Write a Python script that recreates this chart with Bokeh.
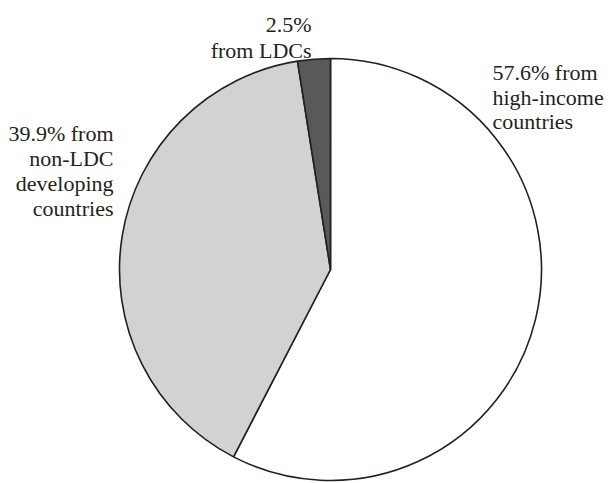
import numpy as np
from bokeh.plotting import figure
from bokeh.models import Range1d, ColumnDataSource
from bokeh.core.properties import value
from bokeh.embed import file_html
from bokeh.resources import INLINE

# Shares of the total, in percent, clockwise from 12 o'clock
groups = ["high-income countries", "non-LDC developing countries", "LDCs"]
shares = [57.6, 39.9, 2.5]
colors = ["#ffffff", "#d1d2d4", "#58595b"]

label_lines = [
    ["57.6% from", "high-income", "countries"],
    ["39.9% from", "non-LDC", "developing", "countries"],
    ["2.5%", "from LDCs"],
]

W, H = 615, 483
p = figure(width=W, height=H, output_backend="svg", toolbar_location=None,
           x_range=Range1d(0, W), y_range=Range1d(0, H), min_border=0)
p.axis.visible = False
p.grid.visible = False
p.outline_line_color = None
p.background_fill_color = "white"
p.border_fill_color = "white"

cx, cy, r = 330, H - 269, 211

frac = np.array(shares) / 100.0
cum = np.concatenate([[0.0], np.cumsum(frac)])
ang = 2 * np.pi * cum
start = np.pi / 2 - ang[1:]
end = np.pi / 2 - ang[:-1]

src = ColumnDataSource(dict(group=groups, start=start, end=end, color=colors))
p.wedge(x=cx, y=cy, radius=r, start_angle="start", end_angle="end",
        fill_color="color", line_color="#231f20", line_width=1.6, source=src)

ink = "#231f20"
face = value("Liberation Serif")

def put_lines(lines, x, y0, align, step):
    ys = [H - (y0 + i * step) for i in range(len(lines))]
    p.text(x=[x] * len(lines), y=ys, text=lines, text_font=face,
           text_font_size="22px", text_color=ink, text_align=align,
           text_baseline="alphabetic")

put_lines(label_lines[0], 492, 72, "left", 24.5)
put_lines(label_lines[1], 113, 133, "right", 25)
put_lines(label_lines[2], 311, 24, "right", 26)

open("out.html", "w").write(file_html(p, INLINE))
